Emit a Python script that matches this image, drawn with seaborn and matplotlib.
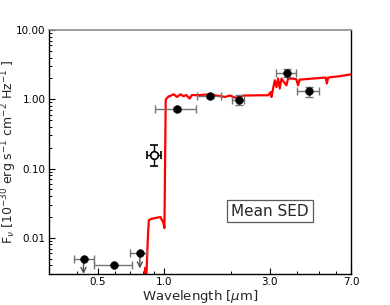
import matplotlib
matplotlib.use("Agg")
import matplotlib.pyplot as plt
import matplotlib.ticker as mticker
import numpy as np
import pandas as pd
import seaborn as sns

# ---- model spectrum ----
spec_wave = [0.70, 0.78, 0.80, 0.81, 0.815, 0.82, 0.825, 0.83, 0.836, 0.843, 0.85,
             0.871, 0.91, 0.959, 0.987, 1.0, 1.0135, 1.045, 1.056, 1.101, 1.141,
             1.181, 1.222, 1.256, 1.30, 1.333, 1.403, 1.556, 1.697, 1.883, 1.98,
             2.10, 2.276, 2.706, 2.95, 3.03, 3.055, 3.107, 3.162, 3.219, 3.273,
             3.33, 3.39, 3.47, 3.57, 3.63, 3.82, 3.96, 4.03, 4.10, 4.70, 5.37,
             5.44, 5.52, 6.21, 6.88, 7.0]
spec_flux = [0.0008, 0.0018, 0.0022, 0.0028, 0.0033, 0.0037, 0.0030, 0.0032,
             0.0060, 0.0117, 0.0179, 0.0187, 0.0193, 0.0199, 0.0168, 0.0138,
             0.99, 1.105, 1.105, 1.18, 1.08, 1.18, 1.105, 1.153, 1.023, 1.153,
             1.142, 1.169, 1.142, 1.08, 1.131, 1.05, 1.131, 1.142, 1.142, 1.27,
             1.08, 1.43, 1.88, 1.50, 1.99, 1.43, 1.99, 1.78, 1.59, 1.99, 1.99,
             1.94, 1.59, 1.92, 1.99, 2.06, 1.69, 2.06, 2.15, 2.27, 2.29]

# ---- photometry ----
phot_wave = [0.43, 0.594, 0.774, 1.14, 1.61, 2.17, 3.58, 4.51]
phot_flux = [0.005, 0.004, 0.006, 0.725, 1.115, 0.99, 2.39, 1.30]
phot_wave_lo = [0.39, 0.48, 0.70, 0.91, 1.40, 2.03, 3.19, 4.00]
phot_wave_hi = [0.48, 0.71, 0.835, 1.39, 1.80, 2.30, 3.94, 5.00]
phot_flux_err = [0.0, 0.0, 0.0, 0.05, 0.08, 0.17, 0.32, 0.22]
phot_upper = [True, False, True, False, False, False, False, False]

# ---- open point ----
open_wave = [0.90]
open_flux = [0.155]
open_wave_lo = [0.835]
open_wave_hi = [0.96]
open_flux_lo = [0.109]
open_flux_hi = [0.218]

x_major = [0.5, 1.0, 3.0, 7.0]
x_minor = [0.3, 0.4, 0.6, 0.7, 0.8, 0.9, 2.0, 4.0, 5.0, 6.0]
y_major = [0.01, 0.1, 1.0, 10.0]

sns.set_style("ticks")
plt.rcParams['font.family'] = ['DejaVu Sans']

fig = plt.figure(figsize=(3.9, 3.05), dpi=100)
ax = fig.add_axes([49/390, 1 - 274/305, 302/390, 244/305])

spec = pd.DataFrame({"wave": spec_wave, "flux": spec_flux})
sns.lineplot(data=spec, x="wave", y="flux", sort=False, estimator=None,
             color="red", lw=1.6, ax=ax, zorder=2)

pw = np.array(phot_wave)
pf = np.array(phot_flux)
xerr = np.vstack([pw - np.array(phot_wave_lo), np.array(phot_wave_hi) - pw])
ax.errorbar(pw, pf, xerr=xerr, yerr=phot_flux_err, fmt='none', ecolor='0.45',
            elinewidth=1.0, capsize=3, capthick=1.0, zorder=3)
phot = pd.DataFrame({"wave": phot_wave, "flux": phot_flux})
sns.scatterplot(data=phot, x="wave", y="flux", color="black", s=30,
                edgecolor="black", linewidth=0.5, ax=ax, zorder=4)
for w, f, up in zip(phot_wave, phot_flux, phot_upper):
    if up:
        ax.annotate("", xy=(w, f * 0.6), xytext=(w, f),
                    arrowprops=dict(arrowstyle="->", color="0.3", lw=1.0,
                                    shrinkA=0, shrinkB=0, mutation_scale=9),
                    zorder=3)

ow = np.array(open_wave)
of = np.array(open_flux)
ax.errorbar(ow, of,
            xerr=np.vstack([ow - np.array(open_wave_lo), np.array(open_wave_hi) - ow]),
            yerr=np.vstack([of - np.array(open_flux_lo), np.array(open_flux_hi) - of]),
            fmt='o', mfc='white', mec='black', color='black', ms=5.5, mew=1.2,
            elinewidth=1.0, capsize=3, capthick=1.0, zorder=4)

ax.set_xscale('log')
ax.set_yscale('log')
ax.set_xlim(0.3, 7.0)
ax.set_ylim(0.003, 10.0)

ax.xaxis.set_major_locator(mticker.FixedLocator(x_major))
ax.xaxis.set_minor_locator(mticker.FixedLocator(x_minor))
ax.xaxis.set_major_formatter(mticker.FormatStrFormatter('%.1f'))
ax.xaxis.set_minor_formatter(mticker.NullFormatter())
ax.yaxis.set_major_locator(mticker.FixedLocator(y_major))
ax.yaxis.set_minor_locator(mticker.LogLocator(base=10, subs=np.arange(2, 10) * 1.0, numticks=20))
ax.yaxis.set_major_formatter(mticker.FormatStrFormatter('%.2f'))
ax.yaxis.set_minor_formatter(mticker.NullFormatter())

ax.tick_params(which='both', direction='in', labelsize=7.5, colors='black', top=False, right=False)
ax.tick_params(which='major', length=4.5, width=0.8, pad=2.5)
ax.tick_params(which='minor', length=2.5, width=0.7)

for s in ['left', 'bottom', 'right']:
    ax.spines[s].set_color('black')
    ax.spines[s].set_linewidth(1.0)
ax.spines['top'].set_color('0.55')
ax.spines['top'].set_linewidth(1.2)
ax.spines['top'].set_visible(True)
ax.spines['right'].set_visible(True)

ax.set_xlabel(r'Wavelength [$\mu$m]', fontsize=9.5, labelpad=0)
ax.xaxis.set_label_coords(0.5, -0.058)
ax.set_ylabel(r'F$_\nu$ [10$^{-30}$ erg s$^{-1}$ cm$^{-2}$ Hz$^{-1}$ ]', fontsize=9, labelpad=0)
ax.yaxis.set_label_coords(-0.098, 0.5)

ax.text(0.732, 0.258, 'Mean SED', transform=ax.transAxes, fontsize=11,
        ha='center', va='center',
        bbox=dict(boxstyle='square,pad=0.25', fc='white', ec='0.35', lw=0.9))

fig.savefig('out.png', dpi=100)
